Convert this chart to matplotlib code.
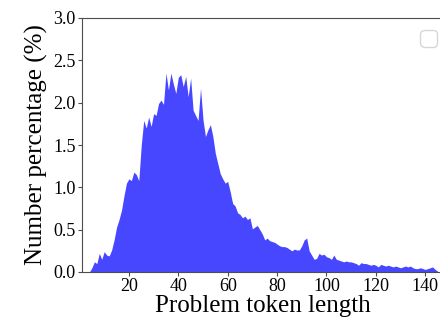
import matplotlib

matplotlib.use("Agg")
import matplotlib.pyplot as plt
import numpy as np

# token length -> share of problems (%)
token_len = np.arange(4, 146)
pct = [
    0.00, 0.05, 0.12, 0.10, 0.22, 0.15, 0.24, 0.20, 0.19, 0.26,   # 4-13
    0.38, 0.53, 0.62, 0.73, 0.90, 1.05, 1.10, 1.08, 1.18, 1.15,   # 14-23
    1.08, 1.50, 1.79, 1.70, 1.83, 1.72, 1.87, 1.85, 1.99, 2.03,   # 24-33
    1.98, 2.35, 2.15, 2.35, 2.22, 2.11, 2.30, 2.33, 2.19, 2.31,   # 34-43
    2.07, 2.29, 1.91, 1.85, 1.79, 2.17, 1.80, 1.60, 1.68, 1.74,   # 44-53
    1.60, 1.40, 1.28, 1.16, 1.10, 1.05, 1.07, 0.95, 0.81, 0.78,   # 54-63
    0.70, 0.68, 0.64, 0.66, 0.62, 0.64, 0.51, 0.53, 0.55, 0.50,   # 64-73
    0.45, 0.38, 0.40, 0.37, 0.36, 0.35, 0.33, 0.31, 0.30, 0.30,   # 74-83
    0.29, 0.27, 0.25, 0.27, 0.26, 0.26, 0.31, 0.38, 0.40, 0.25,   # 84-93
    0.20, 0.15, 0.16, 0.22, 0.20, 0.21, 0.18, 0.17, 0.15, 0.20,   # 94-103
    0.15, 0.14, 0.13, 0.12, 0.13, 0.12, 0.12, 0.11, 0.10, 0.08,   # 104-113
    0.11, 0.10, 0.10, 0.09, 0.08, 0.09, 0.08, 0.06, 0.09, 0.08,   # 114-123
    0.07, 0.08, 0.07, 0.06, 0.07, 0.06, 0.05, 0.06, 0.07, 0.06,   # 124-133
    0.07, 0.05, 0.04, 0.04, 0.05, 0.04, 0.03, 0.04, 0.05, 0.06,   # 134-143
    0.03, 0.01,                                                   # 144-145
]
x_ticks = [20, 40, 60, 80, 100, 120, 140]
y_ticks = [0.0, 0.5, 1.0, 1.5, 2.0, 2.5, 3.0]

plt.rcParams["font.family"] = ["Liberation Serif", "DejaVu Serif"]

fig = plt.figure(figsize=(4.4, 3.24), dpi=100)
ax = fig.add_axes([82 / 440, 52 / 324, 362 / 440, 254 / 324])

ax.fill_between(token_len, 0, pct, color="blue", alpha=0.72, lw=0)
ax.set_xlim(1, 147.6)
ax.set_ylim(0, 3.0)
ax.set_xticks(x_ticks)
ax.set_yticks(y_ticks)
ax.tick_params(labelsize=13, length=3, width=0.8, color="0.3", pad=1.5)
for s in ax.spines.values():
    s.set_color("0.3")
ax.set_xlabel("Problem token length", fontsize=18, labelpad=0)
ax.set_ylabel("Number percentage (%)", fontsize=18, labelpad=4)
# empty legend box, as in the original figure
ax.legend(handles=[], loc="upper right", fontsize=15, borderaxespad=0,
          bbox_to_anchor=(0.981, 0.953))

fig.savefig("out.png", dpi=100)
